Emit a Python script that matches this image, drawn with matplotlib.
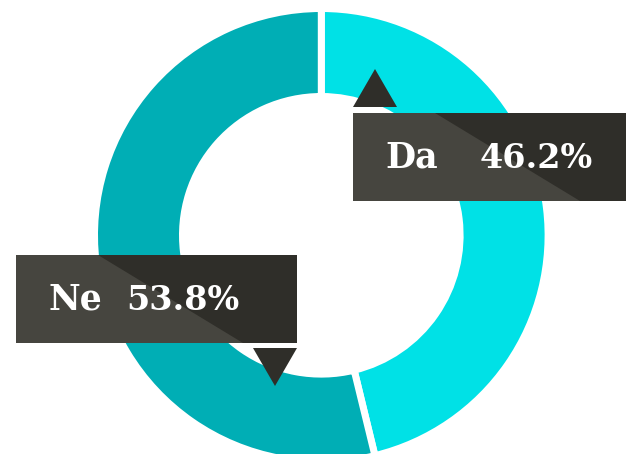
import matplotlib.pyplot as plt
from matplotlib.patches import Polygon

# data
labels = ['Da', 'Ne']
shares = [46.2, 53.8]
colors = ['#00e1e6', '#00aeb5']

# label boxes (pixel layout: left, top, pointer side, text positions)
boxes = {
    'Da': dict(left=353, top=113, pointer='up', name_x=385, pct_x=480),
    'Ne': dict(left=16, top=255, pointer='down', name_x=49, pct_x=126),
}
BOX_W = 281
BOX_H = 88
LIGHT = '#46453f'
DARK = '#2f2e29'

W, H = 626, 454
fig = plt.figure(figsize=(W / 100, H / 100), dpi=100)

# donut axes, centre at (321.3, 235.3) px, outer radius 223.3 px, ring 81 px
cx, cy, R = 321.3, 235.3, 223.3
ring = 81.0
lw_px = 7.0
ax = fig.add_axes([(cx - R) / W, (H - cy - R) / H, 2 * R / W, 2 * R / H])
ax.pie(shares, colors=colors, startangle=90, counterclock=False,
       radius=1.0 + lw_px / 2 / R,
       wedgeprops=dict(width=(ring + lw_px) / R, edgecolor='white',
                       linewidth=lw_px * 72 / 100))
ax.set_xlim(-1, 1)
ax.set_ylim(-1, 1)
ax.set_aspect('equal')
ax.axis('off')

# overlay in pixel coordinates for the labels
ov = fig.add_axes([0, 0, 1, 1])
ov.set_xlim(0, W)
ov.set_ylim(H, 0)
ov.axis('off')

for name, share in zip(labels, shares):
    b = boxes[name]
    L, T = b['left'], b['top']
    B = T + BOX_H
    ov.add_patch(Polygon([(L, T), (L + BOX_W, T), (L + BOX_W, B), (L, B)],
                         closed=True, facecolor=DARK, edgecolor='none'))
    ov.add_patch(Polygon([(L, T), (L + 82, T), (L + 227, B), (L, B)],
                         closed=True, facecolor=LIGHT, edgecolor='none'))
    if b['pointer'] == 'up':
        tri = [(L, T - 6), (L + 44, T - 6), (L + 22, T - 44)]
    else:
        tri = [(L + BOX_W - 44, B + 5), (L + BOX_W, B + 5), (L + BOX_W - 22, B + 43)]
    ov.add_patch(Polygon(tri, closed=True, facecolor=DARK, edgecolor='none'))
    ym = T + BOX_H / 2 + 1
    ov.text(b['name_x'], ym, name, color='white', fontsize=25,
            fontweight='bold', family='DejaVu Serif', ha='left', va='center')
    ov.text(b['pct_x'], ym, f'{share:.1f}%', color='white', fontsize=24,
            fontweight='bold', family='DejaVu Serif', ha='left', va='center')

fig.savefig('out.png', dpi=100)
